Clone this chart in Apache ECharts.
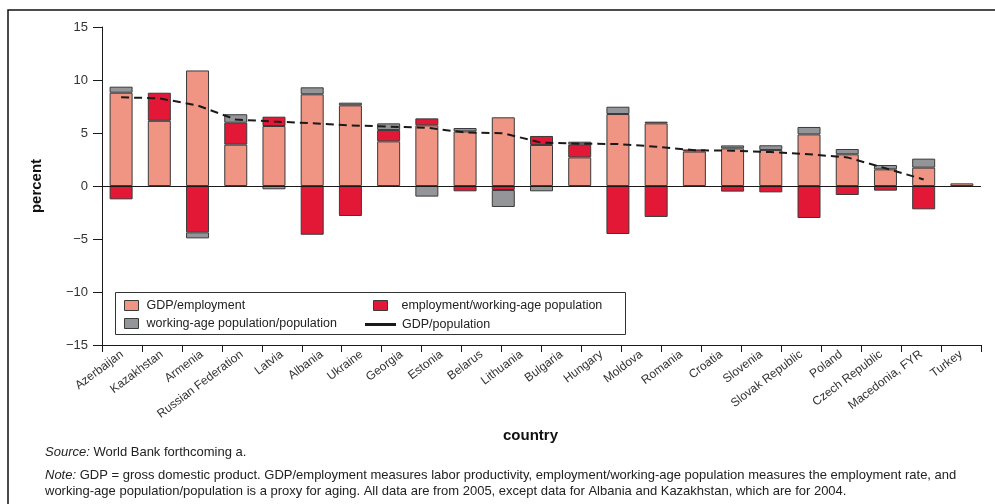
<!DOCTYPE html>
<html>
<head>
<meta charset="utf-8">
<script src="https://cdn.jsdelivr.net/npm/echarts@6/dist/echarts.min.js"></script>
<style>
html,body{margin:0;padding:0;background:#fff;}
#chart{width:995px;height:504px;}
</style>
</head>
<body>
<div id="chart"></div>
<script>
// Axis labels shown in the reference (22 labels)
var countries = ['Azerbaijan','Kazakhstan','Armenia','Russian Federation','Latvia','Albania','Ukraine','Georgia','Estonia','Belarus','Lithuania','Bulgaria','Hungary','Moldova','Romania','Croatia','Slovenia','Slovak Republic','Poland','Czech Republic','Macedonia, FYR','Turkey'];
// The reference draws 23 bars across the same width
var barSlots = ['b1','b2','b3','b4','b5','b6','b7','b8','b9','b10','b11','b12','b13','b14','b15','b16','b17','b18','b19','b20','b21','b22','b23'];
var gdpEmployment = [8.8, 6.15, 10.9, 3.9, 5.66, 8.65, 7.61, 4.21, 5.72, 5.15, 6.48, 3.87, 2.7, 6.79, 5.91, 3.25, 3.55, 3.4, 4.87, 2.99, 1.57, 1.73, 0.25];
var employmentRate = [-1.26, 2.65, -4.37, 2.07, 0.88, -4.6, -2.83, 1.07, 0.66, -0.5, -0.38, 0.85, 1.23, -4.53, -2.92, 0.2, -0.53, -0.6, -3.02, -0.85, -0.44, -2.2, null];
var workingAgeShare = [0.57, null, -0.57, 0.8, -0.31, 0.66, 0.25, 0.63, -1.0, 0.32, -1.6, -0.5, 0.25, 0.69, 0.16, null, 0.28, 0.44, 0.7, 0.5, 0.41, 0.85, null];
var gdpPopulation = [8.37, 8.27, 7.6, 6.27, 6.08, 5.93, 5.72, 5.6, 5.5, 5.05, 4.97, 4.09, 3.99, 3.96, 3.71, 3.38, 3.33, 3.2, 2.99, 2.7, 1.67, 0.62, null];
var yTicks = {min: -15, max: 15, interval: 5};

var FONT = "'Liberation Sans', Arial, sans-serif";
var chart = echarts.init(document.getElementById('chart'), null, {renderer: 'canvas'});

var barBorder = {borderColor: '#3a3a3a', borderWidth: 1};
function barSeries(name, data, color) {
  return {
    name: name, type: 'bar', stack: 'total', xAxisIndex: 1, barWidth: 23, z: 2,
    data: data,
    itemStyle: Object.assign({color: color}, barBorder),
    emphasis: {disabled: true}
  };
}

var series = [
  barSeries('GDP/employment', gdpEmployment, '#F09484'),
  barSeries('employment/working-age population', employmentRate, '#E31837'),
  barSeries('working-age population/population', workingAgeShare, '#939598'),
  {
    name: 'GDP/population', type: 'line', xAxisIndex: 1, data: gdpPopulation,
    symbol: 'none', z: 5,
    lineStyle: {color: '#1a1a1a', width: 2, type: [8, 5]},
    itemStyle: {color: '#1a1a1a'},
    markLine: {
      silent: true, symbol: 'none', label: {show: false},
      lineStyle: {color: '#1a1a1a', width: 1, type: 'solid'},
      data: [{yAxis: 0}]
    }
  }
];

var legendText = {fontFamily: FONT, fontSize: 12.5, color: '#222'};

var option = {
  animation: false,
  backgroundColor: '#ffffff',
  grid: {left: 102, right: 14, top: 27, bottom: 159, containLabel: false},
  xAxis: [
    {
      type: 'category', data: countries, position: 'bottom',
      axisLine: {onZero: false, lineStyle: {color: '#1a1a1a', width: 1}},
      axisTick: {show: true, length: 7, lineStyle: {color: '#1a1a1a'}},
      axisLabel: {rotate: 37, interval: 0, margin: 8, fontFamily: FONT, fontSize: 12, color: '#333'},
      splitLine: {show: false}
    },
    {
      type: 'category', data: barSlots, show: false, position: 'bottom'
    }
  ],
  yAxis: {
    type: 'value', min: yTicks.min, max: yTicks.max, interval: yTicks.interval,
    name: 'percent', nameLocation: 'middle', nameGap: 58, nameRotate: 90,
    nameTextStyle: {fontFamily: FONT, fontWeight: 'bold', fontSize: 15, color: '#111'},
    axisLine: {show: true, lineStyle: {color: '#1a1a1a'}},
    axisTick: {show: true, length: 9, lineStyle: {color: '#1a1a1a'}},
    axisLabel: {
      margin: 14, fontFamily: FONT, fontSize: 13, color: '#333',
      formatter: function (v) { return v < 0 ? '\u2212' + Math.abs(v) : String(v); }
    },
    splitLine: {show: false}
  },
  legend: [
    {
      orient: 'vertical', left: 124, top: 299, padding: 0, itemWidth: 14, itemHeight: 10, itemGap: 5,
      data: [{name: 'GDP/employment', icon: 'rect'}, {name: 'working-age population/population', icon: 'rect'}],
      textStyle: Object.assign({padding: [0, 0, 0, 3]}, legendText),
      itemStyle: {borderColor: '#3a3a3a', borderWidth: 1},
      selectedMode: false
    },
    {
      orient: 'vertical', left: 373, top: 299, padding: 0, itemWidth: 14, itemHeight: 10,
      data: [{name: 'employment/working-age population', icon: 'rect'}],
      textStyle: Object.assign({padding: [0, 0, 0, 9]}, legendText),
      itemStyle: {borderColor: '#3a3a3a', borderWidth: 1},
      selectedMode: false
    },
    {
      orient: 'vertical', left: 365, top: 318, padding: 0, itemWidth: 31, itemHeight: 3,
      data: [{name: 'GDP/population', icon: 'rect'}],
      textStyle: Object.assign({padding: [0, 0, 0, 1]}, legendText),
      itemStyle: {color: '#1a1a1a'},
      selectedMode: false
    }
  ],
  graphic: [
    {type: 'polyline', z: 0, shape: {points: [[8, 520], [8, 10], [1000, 10]]}, style: {stroke: '#111', lineWidth: 1.5, fill: null}},
    {type: 'rect', z: 0, shape: {x: 115.5, y: 292.5, width: 510, height: 42}, style: {stroke: '#333', lineWidth: 1, fill: '#fff'}},
    {type: 'text', left: 503, top: 428, style: {text: 'country', fontFamily: FONT, fontWeight: 'bold', fontSize: 15, fill: '#111'}},
    {type: 'text', left: 45, top: 446, style: {
      text: '{i|Source:} World Bank forthcoming a.',
      rich: {i: {fontStyle: 'italic', fontFamily: FONT, fontSize: 13, fill: '#222'}},
      fontFamily: FONT, fontSize: 13, fill: '#222'}},
    {type: 'text', left: 45, top: 467, style: {
      text: '{i|Note:} GDP = gross domestic product. GDP/employment measures labor productivity, employment/working-age population measures the employment rate, and\nworking-age population/population is a proxy for aging. All data are from 2005, except data for Albania and Kazakhstan, which are for 2004.',
      rich: {i: {fontStyle: 'italic', fontFamily: FONT, fontSize: 13, lineHeight: 16, fill: '#222'}},
      fontFamily: FONT, fontSize: 13, lineHeight: 16, fill: '#222'}}
  ],
  series: series
};
chart.setOption(option);
</script>
</body>
</html>
